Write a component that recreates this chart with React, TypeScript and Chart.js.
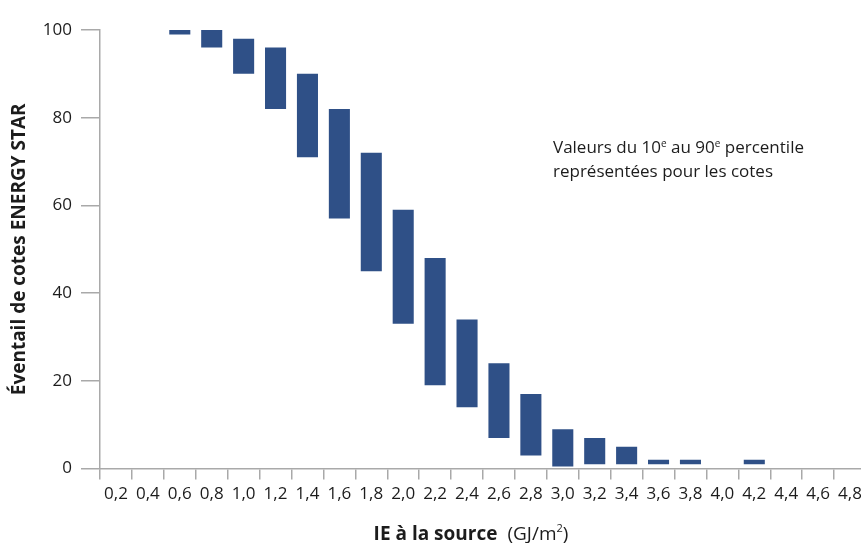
import { useEffect, useRef } from 'react';
import { Chart, registerables } from 'chart.js';

Chart.register(...registerables);

const categories = ['0,2', '0,4', '0,6', '0,8', '1,0', '1,2', '1,4', '1,6', '1,8', '2,0', '2,2', '2,4', '2,6', '2,8', '3,0', '3,2', '3,4', '3,6', '3,8', '4,0', '4,2', '4,4', '4,6', '4,8'];
const p10: (number | null)[] = [null, null, 99, 96, 90, 82, 71, 57, 45, 33, 19, 14, 7, 3, 0.5, 1, 1, 1, 1, null, 1, null, null, null];
const p90: (number | null)[] = [null, null, 100, 100, 98, 96, 90, 82, 72, 59, 48, 34, 24, 17, 9, 7, 5, 2, 2, null, 2, null, null, null];
const yTicks = [0, 20, 40, 60, 80, 100];

const yTitle = 'Éventail de cotes ENERGY STAR';
const xTitleBold = 'IE à la source';
const xTitleUnit = [{ t: '(GJ/m' }, { t: '2', sup: true }, { t: ')' }];
const noteLine1 = [{ t: 'Valeurs du 10' }, { t: 'e', sup: true }, { t: ' au 90' }, { t: 'e', sup: true }, { t: ' percentile' }];
const noteLine2 = [{ t: 'représentées pour les cotes' }];

const FONT = '"Open Sans", "DejaVu Sans", sans-serif';
const GREY = '#a9a9a9';
const TEXT = '#1c1c1c';

type Part = { t: string; sup?: boolean };

function measureRich(ctx: CanvasRenderingContext2D, parts: Part[], size: number, weight: string) {
  let w = 0;
  for (const p of parts) {
    ctx.font = `${weight} ${p.sup ? Math.round(size * 0.6) : size}px ${FONT}`;
    w += ctx.measureText(p.t).width;
  }
  return w;
}

function drawRich(ctx: CanvasRenderingContext2D, parts: Part[], x: number, y: number, size: number, weight: string) {
  let cx = x;
  for (const p of parts) {
    if (p.sup) {
      ctx.font = `${weight} ${Math.round(size * 0.6)}px ${FONT}`;
      ctx.fillText(p.t, cx, y - size * 0.38);
    } else {
      ctx.font = `${weight} ${size}px ${FONT}`;
      ctx.fillText(p.t, cx, y);
    }
    cx += ctx.measureText(p.t).width;
  }
  return cx;
}

const textPlugin = {
  id: 'textPlugin',
  afterDraw(chart: any) {
    const ctx: CanvasRenderingContext2D = chart.ctx;
    const ca = chart.chartArea;
    ctx.save();
    ctx.fillStyle = TEXT;
    ctx.textBaseline = 'alphabetic';
    ctx.textAlign = 'left';
    // x axis title
    ctx.font = `bold 19px ${FONT}`;
    const bw = ctx.measureText(xTitleBold).width;
    const gap = 10;
    const uw = measureRich(ctx, xTitleUnit, 19, 'normal');
    const total = bw + gap + uw;
    const bx = ca.left + 371 - total / 2;
    const by = ca.bottom + 71;
    ctx.font = `bold 19px ${FONT}`;
    ctx.fillText(xTitleBold, bx, by);
    drawRich(ctx, xTitleUnit, bx + bw + gap, by, 19, 'normal');
    // note
    drawRich(ctx, noteLine1, ca.left + 453, ca.top + 123, 17, 'normal');
    drawRich(ctx, noteLine2, ca.left + 453, ca.top + 147, 17, 'normal');
    ctx.restore();
  },
};

export default function App() {
  const ref = useRef<HTMLCanvasElement | null>(null);

  useEffect(() => {
    if (!ref.current) return;
    const data = categories.map((_, i) =>
      p10[i] === null || p90[i] === null ? null : [p10[i] as number, p90[i] as number]
    );
    const chart = new Chart(ref.current, {
      type: 'bar',
      data: {
        labels: categories,
        datasets: [
          {
            data: data as any,
            backgroundColor: '#2f5087',
            borderWidth: 0,
            barPercentage: 0.66,
            categoryPercentage: 1,
            borderSkipped: false,
          },
        ],
      },
      options: {
        animation: false,
        responsive: false,
        devicePixelRatio: 1,
        layout: { padding: { top: 30, right: 4, left: 0, bottom: 0 } },
        plugins: {
          legend: { display: false },
          tooltip: { enabled: false },
        },
        scales: {
          x: {
            type: 'category',
            grid: {
              offset: true,
              drawOnChartArea: false,
              drawTicks: true,
              tickLength: 11,
              color: GREY,
              lineWidth: 1.5,
            },
            border: { display: true, color: GREY, width: 1.5 },
            ticks: {
              autoSkip: false,
              maxRotation: 0,
              minRotation: 0,
              padding: 4,
              color: TEXT,
              font: { family: FONT, size: 17 },
            },
            afterFit: (s: any) => {
              s.height = 74.4;
            },
          },
          y: {
            min: 0,
            max: 100,
            afterBuildTicks: (s: any) => {
              s.ticks = yTicks.map((v) => ({ value: v }));
            },
            grid: {
              drawOnChartArea: false,
              drawTicks: true,
              tickLength: 19,
              color: GREY,
              lineWidth: 1.5,
            },
            border: { display: true, color: GREY, width: 1.5 },
            ticks: {
              padding: 9,
              color: TEXT,
              font: { family: FONT, size: 17 },
            },
            title: {
              display: true,
              text: yTitle,
              color: TEXT,
              font: { family: FONT, size: 19, weight: 'bold' },
              padding: { top: 8, bottom: 0 },
            },
            afterFit: (s: any) => {
              s.width = 100;
            },
          },
        },
      },
      plugins: [textPlugin],
    });
    return () => chart.destroy();
  }, []);

  return (
    <div style={{ position: 'fixed', left: 0, top: 0, width: 861, height: 543, overflow: 'hidden', background: '#fff' }}>
      <canvas ref={ref} width={870} height={543} style={{ width: 870, height: 543, display: 'block' }} />
    </div>
  );
}
